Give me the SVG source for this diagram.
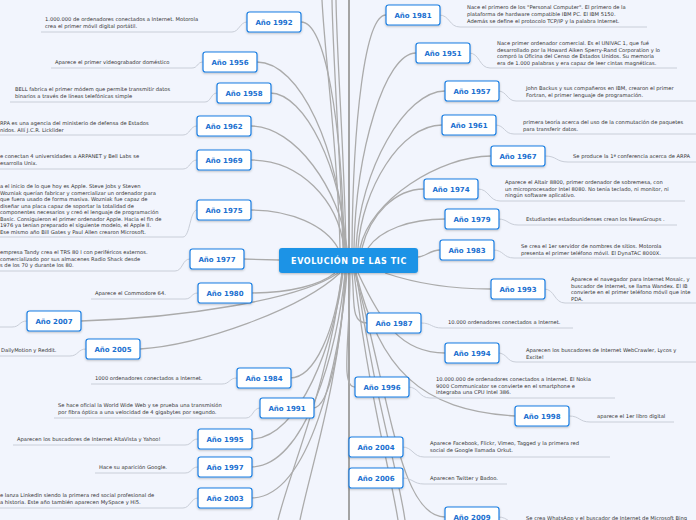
<svg xmlns="http://www.w3.org/2000/svg" width="696" height="520" viewBox="0 0 696 520">
<defs>
<filter id="sh" x="-20%" y="-30%" width="140%" height="170%"><feDropShadow dx="0" dy="1" stdDeviation="0.8" flood-color="#000" flood-opacity="0.25"/></filter>
</defs>
<style>
.c{fill:none;stroke:#ababab;stroke-width:1.3}
.v{fill:none;stroke:#a3a3a3;stroke-width:2}
.u{fill:none;stroke:#c9ced8;stroke-width:1}
.n rect{fill:#fff;stroke:#1b7fe3;stroke-width:1.2;filter:url(#sh)}
.n text{font-family:"DejaVu Sans",sans-serif;font-weight:bold;font-size:7px;fill:#1a6fd0;text-anchor:middle}
.t{font-family:"DejaVu Sans",sans-serif;font-size:5.2px;fill:#333}
</style>
<rect width="696" height="520" fill="#f2f5fd"/>
<g id="connectors">
<path class="v" d="M349,0 L349,520"/>
<path class="c" d="M340,248 C338,150 325,60 322,0"/>
<path class="c" d="M343,248 C340,150 333,60 332,0"/>
<path class="c" d="M346,248 C344,150 337,60 336,0"/>
<path class="c" d="M342,273 C330,380 290,470 278,520"/>
<path class="c" d="M346,273 C340,380 310,470 300,520"/>
<path class="c" d="M354,273 C370,400 390,470 398,520"/>
<path class="c" d="M356,273 C375,400 398,470 405,520"/>
<path class="c" d="M301,22 C325,22 342,120 344,248"/>
<path class="c" d="M257,62 C300,62 340,150 345,248"/>
<path class="c" d="M270,93 C305,93 342,170 346,248"/>
<path class="c" d="M251,126 C295,126 340,190 347,248"/>
<path class="c" d="M251,160 C300,160 338,200 344,248"/>
<path class="c" d="M251,210 C290,210 325,225 338,248"/>
<path class="c" d="M386,15 C365,15 353,120 352,248"/>
<path class="c" d="M416,53 C385,53 356,150 354,248"/>
<path class="c" d="M445,91 C405,91 360,170 356,248"/>
<path class="c" d="M442,125 C400,125 362,190 358,248"/>
<path class="c" d="M491,156 C440,156 370,200 360,248"/>
<path class="c" d="M424,189 C395,189 370,215 362,248"/>
<path class="c" d="M445,219 C410,219 380,230 368,248"/>
<path class="c" d="M440,250 C430,250 425,257 418,257"/>
<path class="c" d="M243,259 L279,260"/>
<path class="c" d="M251,293 C290,293 320,285 335,273"/>
<path class="c" d="M81,321 C180,318 300,300 338,273"/>
<path class="c" d="M140,349 C200,345 300,310 340,273"/>
<path class="c" d="M290,378 C315,378 335,330 342,273"/>
<path class="c" d="M313,408 C330,408 342,340 345,273"/>
<path class="c" d="M251,439 C300,439 335,340 343,273"/>
<path class="c" d="M251,467 C305,467 338,350 345,273"/>
<path class="c" d="M251,498 C310,498 340,360 347,273"/>
<path class="c" d="M385,273 C420,285 460,289 491,289"/>
<path class="c" d="M352,273 C355,300 350,323 367,323"/>
<path class="c" d="M358,273 C380,320 400,353 445,353"/>
<path class="c" d="M350,273 C350,340 340,387 355,387"/>
<path class="c" d="M356,273 C380,370 420,410 515,416"/>
<path class="c" d="M355,273 C390,400 400,517 445,517"/>
<path class="u" d="M41,32 L232,32 C239,32 240,22 247,22"/>
<path class="u" d="M51,68 L192,68 C198,68 197,62 203,62"/>
<path class="u" d="M10,102 L205,102 C211,102 211,93 217,93"/>
<path class="u" d="M0,135 L183,135 C190,135 190,126 197,126"/>
<path class="u" d="M0,169 L183,169 C190,169 190,160 197,160"/>
<path class="u" d="M0,237 L183,237 C190,237 190,210 197,210"/>
<path class="u" d="M0,271 L175,271 C183,271 182,259 190,259"/>
<path class="u" d="M91,299 L185,299 C192,299 191,293 198,293"/>
<path class="u" d="M0,327 L12,327 C20,327 19,321 27,321"/>
<path class="u" d="M0,356 L70,356 C78,356 78,349 86,349"/>
<path class="u" d="M91,384 L222,384 C230,384 229,378 237,378"/>
<path class="u" d="M54,418 L246,418 C253,418 253,408 260,408"/>
<path class="u" d="M13,445 L185,445 C192,445 191,439 198,439"/>
<path class="u" d="M95,473 L185,473 C192,473 191,467 198,467"/>
<path class="u" d="M0,508 L183,508 C190,508 191,498 198,498"/>
<path class="u" d="M439,15 C450,15 449,27 460,27 L647,27"/>
<path class="u" d="M469,53 C480,53 479,68 490,68 L677,68"/>
<path class="u" d="M498,91 C507,91 507,101 516,101 L696,101"/>
<path class="u" d="M495,125 C505,125 504,134 514,134 L696,134"/>
<path class="u" d="M545,156 C557,156 556,162 568,162 L696,162"/>
<path class="u" d="M478,189 C489,189 489,201 500,201 L685,201"/>
<path class="u" d="M498,219 C508,219 508,225 518,225 L677,225"/>
<path class="u" d="M493,250 C504,250 503,258 514,258 L696,258"/>
<path class="u" d="M544,289 C555,289 554,303 565,303 L696,303"/>
<path class="u" d="M421,323 C432,323 431,328 442,328 L573,328"/>
<path class="u" d="M498,353 C507,353 507,362 516,362 L696,362"/>
<path class="u" d="M408,387 C419,387 419,398 430,398 L615,398"/>
<path class="u" d="M569,416 C580,416 579,422 590,422 L674,422"/>
<path class="u" d="M402,447 C413,447 413,457 424,457 L610,457"/>
<path class="u" d="M402,478 C413,478 413,484 424,484 L507,484"/>
<path class="u" d="M498,517 C509,517 509,525 520,525 L696,525"/>
</g>
<g id="center"><rect x="279" y="248" width="139" height="25" rx="3" fill="#1f93e6" filter="url(#sh)"/><text x="349" y="263.5" font-family="DejaVu Sans, sans-serif" font-weight="bold" font-size="8" letter-spacing="0.6" fill="#fff" text-anchor="middle">EVOLUCIÓN DE LAS TIC</text></g>
<g id="n1992" class="n"><rect x="247" y="12" width="54" height="20" rx="2.5"/><text x="274" y="24.5">Año 1992</text></g>
<g id="t1992"><text class="t" x="45" y="21">1.000.000 de ordenadores conectados a Internet. Motorola</text><text class="t" x="45" y="28">crea el primer móvil digital portátil.</text></g>
<g id="n1956" class="n"><rect x="203" y="52" width="54" height="20" rx="2.5"/><text x="230" y="64.5">Año 1956</text></g>
<g id="t1956"><text class="t" x="55" y="64">Aparece el primer videograbador doméstico</text></g>
<g id="n1958" class="n"><rect x="217" y="83" width="54" height="20" rx="2.5"/><text x="244" y="95.5">Año 1958</text></g>
<g id="t1958"><text class="t" x="15" y="91">BELL fabrica el primer módem que permite transmitir datos</text><text class="t" x="15" y="98">binarios a través de líneas telefónicas simple</text></g>
<g id="n1962" class="n"><rect x="197" y="116" width="54" height="20" rx="2.5"/><text x="224" y="128.5">Año 1962</text></g>
<g id="t1962"><text class="t" x="0" y="125">RPA es una agencia del ministerio de defensa de Estados</text><text class="t" x="0" y="132">nidos. Allí J.C.R. Licklider</text></g>
<g id="n1969" class="n"><rect x="197" y="150" width="54" height="20" rx="2.5"/><text x="224" y="162.5">Año 1969</text></g>
<g id="t1969"><text class="t" x="0" y="158">e conectan 4 universidades a ARPANET y Bell Labs se</text><text class="t" x="0" y="165">esarrolla Unix.</text></g>
<g id="n1975" class="n"><rect x="197" y="200" width="54" height="20" rx="2.5"/><text x="224" y="212.5">Año 1975</text></g>
<g id="t1975"><text class="t" x="0" y="188">a el inicio de lo que hoy es Apple. Steve Jobs y Steven</text><text class="t" x="0" y="194.5">Wozniak querían fabricar y comercializar un ordenador para</text><text class="t" x="0" y="201">que fuera usado de forma masiva. Wozniak fue capaz de</text><text class="t" x="0" y="207.5">diseñar una placa capaz de soportar la totalidad de</text><text class="t" x="0" y="214">componentes necesarios y creó el lenguaje de programación</text><text class="t" x="0" y="220.5">Basic. Consiguieron el primer ordenador Apple. Hacia el fin de</text><text class="t" x="0" y="227">1976 ya tenían preparado el siguiente modelo,  el Apple II.</text><text class="t" x="0" y="233.5">Ese mismo año Bill Gates y Paul Allen crearon Microsoft.</text></g>
<g id="n1977" class="n"><rect x="190" y="249" width="54" height="20" rx="2.5"/><text x="217" y="261.5">Año 1977</text></g>
<g id="t1977"><text class="t" x="0" y="254">empresa Tandy crea el TRS 80 I con periféricos externos.</text><text class="t" x="0" y="261">comercializado por sus almacenes Radio Shack desde</text><text class="t" x="0" y="267">s de los 70 y durante los 80.</text></g>
<g id="n1980" class="n"><rect x="198" y="283" width="54" height="20" rx="2.5"/><text x="225" y="295.5">Año 1980</text></g>
<g id="t1980"><text class="t" x="95" y="295">Aparece el Commodore 64.</text></g>
<g id="n2007" class="n"><rect x="27" y="311" width="54" height="20" rx="2.5"/><text x="54" y="323.5">Año 2007</text></g>
<g id="n2005" class="n"><rect x="86" y="339" width="54" height="20" rx="2.5"/><text x="113" y="351.5">Año 2005</text></g>
<g id="t2005"><text class="t" x="1" y="352">DailyMotion y Reddit.</text></g>
<g id="n1984" class="n"><rect x="237" y="368" width="54" height="20" rx="2.5"/><text x="264" y="380.5">Año 1984</text></g>
<g id="t1984"><text class="t" x="95" y="380">1000 ordenadores conectados a Internet.</text></g>
<g id="n1991" class="n"><rect x="260" y="398" width="54" height="20" rx="2.5"/><text x="287" y="410.5">Año 1991</text></g>
<g id="t1991"><text class="t" x="58" y="407">Se hace oficial la World Wide Web y se prueba una transmisión</text><text class="t" x="58" y="414">por fibra óptica a una velocidad de 4 gigabytes por segundo.</text></g>
<g id="n1995" class="n"><rect x="198" y="429" width="54" height="20" rx="2.5"/><text x="225" y="441.5">Año 1995</text></g>
<g id="t1995"><text class="t" x="17" y="441">Aparecen los buscadores de Internet AltaVista y Yahoo!</text></g>
<g id="n1997" class="n"><rect x="198" y="457" width="54" height="20" rx="2.5"/><text x="225" y="469.5">Año 1997</text></g>
<g id="t1997"><text class="t" x="99" y="469">Hace su aparición Google.</text></g>
<g id="n2003" class="n"><rect x="198" y="488" width="54" height="20" rx="2.5"/><text x="225" y="500.5">Año 2003</text></g>
<g id="t2003"><text class="t" x="0" y="497">e lanza LinkedIn siendo la primera red social profesional de</text><text class="t" x="0" y="504">a historia. Este año también aparecen MySpace y Hi5.</text></g>
<g id="n1981" class="n"><rect x="386" y="5" width="54" height="20" rx="2.5"/><text x="413" y="17.5">Año 1981</text></g>
<g id="t1981"><text class="t" x="467" y="9">Nace el primero de los "Personal Computer". El primero de la</text><text class="t" x="467" y="16">plataforma de hardware compatible IBM PC. El IBM 5150.</text><text class="t" x="467" y="23">Además se define el protocolo TCP/IP y la palabra Internet.</text></g>
<g id="n1951" class="n"><rect x="416" y="43" width="54" height="20" rx="2.5"/><text x="443" y="55.5">Año 1951</text></g>
<g id="t1951"><text class="t" x="497" y="45">Nace primer ordenador comercial. Es el UNIVAC 1, que fué</text><text class="t" x="497" y="51.5">desarrollado por la Howard Aiken Sperry-Rand Corporation y lo</text><text class="t" x="497" y="58">compró la Oficina del Censo de Estados Unidos. Su memoria</text><text class="t" x="497" y="64.5">era de 1.000 palabras y era capaz de leer cintas magnéticas.</text></g>
<g id="n1957" class="n"><rect x="445" y="81" width="54" height="20" rx="2.5"/><text x="472" y="93.5">Año 1957</text></g>
<g id="t1957"><text class="t" x="526" y="90">John Backus y sus compañeros en IBM, crearon el primer</text><text class="t" x="526" y="97">Fortran, el primer lenguaje de programación.</text></g>
<g id="n1961" class="n"><rect x="442" y="115" width="54" height="20" rx="2.5"/><text x="469" y="127.5">Año 1961</text></g>
<g id="t1961"><text class="t" x="523" y="124">primera teoría acerca del uso de la conmutación de paquetes</text><text class="t" x="523" y="130.5">para transferir datos.</text></g>
<g id="n1967" class="n"><rect x="491" y="146" width="54" height="20" rx="2.5"/><text x="518" y="158.5">Año 1967</text></g>
<g id="t1967"><text class="t" x="573" y="158">Se produce la 1ª conferencia acerca de ARPA</text></g>
<g id="n1974" class="n"><rect x="424" y="179" width="54" height="20" rx="2.5"/><text x="451" y="191.5">Año 1974</text></g>
<g id="t1974"><text class="t" x="505" y="184">Aparece el Altair 8800, primer ordenador de sobremesa, con</text><text class="t" x="505" y="190.5">un microprocesador Intel 8080. No tenía teclado, ni monitor, ni</text><text class="t" x="505" y="197">ningún software aplicativo.</text></g>
<g id="n1979" class="n"><rect x="445" y="209" width="54" height="20" rx="2.5"/><text x="472" y="221.5">Año 1979</text></g>
<g id="t1979"><text class="t" x="526" y="221">Estudiantes estadounidenses crean los NewsGroups .</text></g>
<g id="n1983" class="n"><rect x="440" y="240" width="54" height="20" rx="2.5"/><text x="467" y="252.5">Año 1983</text></g>
<g id="t1983"><text class="t" x="521" y="248">Se crea el 1er servidor de nombres de sitios. Motorola</text><text class="t" x="521" y="255">presenta el primer teléfono móvil. El DynaTAC 8000X.</text></g>
<g id="n1993" class="n"><rect x="491" y="279" width="54" height="20" rx="2.5"/><text x="518" y="291.5">Año 1993</text></g>
<g id="t1993"><text class="t" x="571" y="281">Aparece el navegador para Internet Mosaic, y</text><text class="t" x="571" y="287.5">buscador de Internet, se llama Wandex. El IB</text><text class="t" x="571" y="294">convierte en el primer teléfono móvil que inte</text><text class="t" x="571" y="300.5">PDA.</text></g>
<g id="n1987" class="n"><rect x="367" y="313" width="54" height="20" rx="2.5"/><text x="394" y="325.5">Año 1987</text></g>
<g id="t1987"><text class="t" x="448" y="324">10.000 ordenadores conectados a Internet.</text></g>
<g id="n1994" class="n"><rect x="445" y="343" width="54" height="20" rx="2.5"/><text x="472" y="355.5">Año 1994</text></g>
<g id="t1994"><text class="t" x="526" y="352">Aparecen los buscadores de Internet WebCrawler, Lycos y</text><text class="t" x="526" y="358.5">Excite!</text></g>
<g id="n1996" class="n"><rect x="355" y="377" width="54" height="20" rx="2.5"/><text x="382" y="389.5">Año 1996</text></g>
<g id="t1996"><text class="t" x="436" y="381">10.000.000 de ordenadores conectados a Internet. El Nokia</text><text class="t" x="436" y="387.5">9000 Communicator se convierte en el smartphone e</text><text class="t" x="436" y="394">integraba una CPU Intel 386.</text></g>
<g id="n1998" class="n"><rect x="515" y="406" width="54" height="20" rx="2.5"/><text x="542" y="418.5">Año 1998</text></g>
<g id="t1998"><text class="t" x="597" y="418">aparece el 1er libro digital</text></g>
<g id="n2004" class="n"><rect x="349" y="437" width="54" height="20" rx="2.5"/><text x="376" y="449.5">Año 2004</text></g>
<g id="t2004"><text class="t" x="430" y="445">Aparece Facebook, Flickr, Vimeo, Tagged y la primera red</text><text class="t" x="430" y="452">social de Google llamada Orkut.</text></g>
<g id="n2006" class="n"><rect x="349" y="468" width="54" height="20" rx="2.5"/><text x="376" y="480.5">Año 2006</text></g>
<g id="t2006"><text class="t" x="430" y="480">Aparecen Twitter y Badoo.</text></g>
<g id="n2009" class="n"><rect x="445" y="507" width="54" height="20" rx="2.5"/><text x="472" y="519.5">Año 2009</text></g>
<g id="t2009"><text class="t" x="526" y="520">Se crea WhatsApp y el buscador de Internet de Microsoft Bing</text></g>
</svg>
